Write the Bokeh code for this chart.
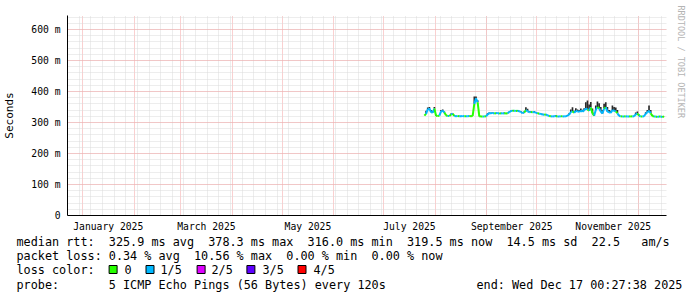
import datetime as dt
from bokeh.plotting import figure
from bokeh.models import Range1d, FixedTicker, ColumnDataSource, Title
from bokeh.embed import file_html
from bokeh.resources import INLINE
from bokeh.core.properties import value

# ---------------- data ----------------
first_sample = dt.datetime(2025, 7, 25, 12)   # one sample per day
median_ms = [
    322, 328, 342, 345, 333, 332, 345, 322, 321, 322,
    336, 338, 332, 323, 321, 321, 326, 328, 321, 320,
    321, 320, 320, 321, 320, 320, 320, 321, 320, 321,
    360, 378, 365, 320, 319, 319, 319, 320, 326, 330,
    330, 331, 329, 330, 331, 328, 330, 329, 330, 329,
    330, 333, 337, 338, 338, 337, 338, 336, 334, 330,
    332, 340, 336, 333, 334, 333, 334, 331, 330, 328,
    327, 326, 325, 326, 323, 321, 320, 319, 320, 321,
    319, 319, 320, 320, 319, 320, 322, 325, 334, 336,
    331, 337, 336, 334, 338, 335, 339, 345, 342, 338,
    348, 330, 322, 340, 350, 345, 335, 329, 345, 349,
    335, 333, 331, 340, 338, 336, 330, 321, 320, 319,
    319, 320, 319, 319, 320, 319, 320, 326, 329, 322,
    319, 319, 320, 328, 333, 338, 330, 321, 319, 319,
    318, 319, 319, 318, 319,
]
loss_count = [
    0, 0, 1, 1, 1, 1, 1, 0, 0, 0,
    1, 1, 1, 0, 0, 1, 0, 1, 0, 1,
    1, 0, 1, 1, 1, 0, 1, 1, 0, 0,
    0, 1, 1, 0, 0, 0, 1, 0, 1, 1,
    1, 1, 1, 0, 1, 1, 0, 1, 1, 0,
    0, 1, 1, 1, 0, 1, 0, 1, 1, 1,
    1, 0, 1, 1, 1, 0, 1, 1, 1, 0,
    1, 1, 1, 0, 1, 1, 0, 1, 1, 1,
    0, 1, 1, 0, 1, 1, 1, 1, 1, 1,
    0, 1, 1, 1, 1, 1, 1, 1, 1, 0,
    1, 0, 0, 1, 1, 0, 1, 1, 1, 0,
    1, 1, 1, 1, 1, 1, 0, 1, 1, 0,
    1, 0, 1, 1, 0, 0, 1, 1, 1, 0,
    1, 0, 1, 1, 1, 1, 1, 0, 0, 1,
    0, 1, 0, 1, 0,
]
smoke_hi_ms = [
    322, 338, 348, 350, 340, 338, 350, 325, 321, 322,
    340, 342, 335, 325, 321, 321, 329, 330, 323, 320,
    321, 322, 320, 321, 320, 320, 320, 322, 320, 322,
    384, 384, 372, 322, 319, 319, 319, 320, 330, 332,
    331, 333, 330, 331, 332, 330, 331, 330, 332, 330,
    331, 335, 339, 340, 339, 339, 340, 338, 336, 332,
    335, 349, 344, 336, 336, 334, 336, 333, 331, 329,
    328, 328, 326, 327, 324, 322, 321, 320, 320, 323,
    320, 319, 320, 321, 319, 321, 324, 330, 342, 349,
    338, 346, 342, 340, 345, 341, 346, 365, 371, 358,
    366, 345, 330, 355, 368, 362, 350, 340, 360, 365,
    350, 340, 338, 355, 350, 348, 340, 325, 320, 320,
    319, 320, 319, 320, 320, 319, 321, 332, 335, 326,
    319, 319, 321, 333, 340, 355, 340, 325, 319, 319,
    319, 319, 319, 319, 320,
]
loss_labels = ["0", "1/5", "2/5", "3/5", "4/5"]
loss_colors = ["#26ff00", "#00b8ff", "#dd00ff", "#5e00ff", "#ff0000"]

y_ticks = [0, 100, 200, 300, 400, 500, 600]
y_tick_labels = ["0", "100 m", "200 m", "300 m", "400 m", "500 m", "600 m"]
x_label_months = [(2025, 1), (2025, 3), (2025, 5), (2025, 7), (2025, 9), (2025, 11)]
x_tick_labels = ["January 2025", "March 2025", "May 2025", "July 2025",
                 "September 2025", "November 2025"]

legend_rows = [
    ["median rtt:", "325.9 ms avg", "378.3 ms max", "316.0 ms min", "319.5 ms now",
     "14.5 ms sd", "22.5", "am/s"],
    ["packet loss:", "0.34 % avg", "10.56 % max", "0.00 % min", "0.00 % now"],
    ["loss color:"],
    ["probe:", "5 ICMP Echo Pings (56 Bytes) every 120s"],
]
legend_cols = [
    [0, 13, 27, 41, 55, 69, 81, 88],
    [0, 13, 25, 38, 50],
    [0],
    [0, 13],
]
end_text = "end: Wed Dec 17 00:27:38 2025"
watermark = "RRDTOOL / TOBI OETIKER"

# ---------------- helpers ----------------
EPOCH = dt.datetime(1970, 1, 1)


def ms(d):
    return (d - EPOCH).total_seconds() * 1000.0


DAY = 86400000.0
start_ms = ms(dt.datetime(2024, 12, 23))
end_ms = ms(dt.datetime(2025, 12, 18))
Y_TOP = 645.0
times = [ms(first_sample) + i * DAY for i in range(len(median_ms))]

MONO = "DejaVu Sans Mono"
W = 697
FL, FT, FW, FH = 67, 15, 600, 200
MAIN_H = 234
LEG_H = 297 - MAIN_H

# ---------------- main graph ----------------
p = figure(width=W, height=MAIN_H, x_axis_type="datetime",
           x_range=Range1d(start_ms, end_ms), y_range=Range1d(0, Y_TOP),
           output_backend="svg", toolbar_location=None,
           min_border_left=FL, min_border_right=W - FL - FW,
           min_border_top=FT, min_border_bottom=MAIN_H - FT - FH)
p.outline_line_color = None
p.background_fill_color = "white"
p.border_fill_color = "white"

# grids
month_starts = []
for y, m in [(2024, 12)] + [(2025, k) for k in range(1, 13)]:
    month_starts.append(ms(dt.datetime(y, m, 1)))
week_lines = []
d = dt.datetime(2024, 12, 23)
while d < dt.datetime(2025, 12, 19):
    week_lines.append(ms(d))
    d += dt.timedelta(days=7)

MAJ = "#f4a0a0"
MIN = "#dadada"
p.xgrid.ticker = FixedTicker(ticks=month_starts, minor_ticks=week_lines)
p.ygrid.ticker = FixedTicker(ticks=y_ticks, minor_ticks=list(range(0, 641, 20)))
for g in (p.xgrid[0], p.ygrid[0]):
    g.grid_line_color = MAJ
    g.grid_line_dash = "1 1"
    g.minor_grid_line_color = MIN
    g.minor_grid_line_dash = "1 1"

# axes
label_ticks = []
for (y, m) in x_label_months:
    a = dt.datetime(y, m, 1)
    b = dt.datetime(y + (m == 12), m % 12 + 1, 1)
    label_ticks.append((ms(a) + ms(b)) / 2.0)
p.xaxis.ticker = FixedTicker(ticks=label_ticks)
p.xaxis.major_label_overrides = {t: s for t, s in zip(label_ticks, x_tick_labels)}
p.yaxis.ticker = FixedTicker(ticks=y_ticks)
p.yaxis.major_label_overrides = {t: s for t, s in zip(y_ticks, y_tick_labels)}

for ax in (p.xaxis[0], p.yaxis[0]):
    ax.axis_line_color = "black"
    ax.axis_line_width = 1
    ax.major_tick_line_color = None
    ax.minor_tick_line_color = None
    ax.major_tick_out = 0
    ax.major_tick_in = 0
    ax.minor_tick_out = 0
    ax.minor_tick_in = 0
    ax.major_label_text_font = MONO
    ax.major_label_text_font_size = "9.7px"
    ax.major_label_text_color = "black"
p.xaxis.major_label_standoff = 5
p.yaxis.major_label_standoff = 7
p.yaxis.axis_label = "Seconds"
p.yaxis.axis_label_text_font = MONO
p.yaxis.axis_label_text_font_size = "11px"
p.yaxis.axis_label_text_font_style = "normal"
p.yaxis.axis_label_text_color = "black"
p.yaxis.axis_label_standoff = 12

# smoke
src = ColumnDataSource(dict(t=times, med=median_ms, hi=smoke_hi_ms))
p.vbar(x="t", width=DAY, bottom="med", top="hi", source=src,
       fill_color="#2a2a2a", line_color=None)

# median line coloured by loss
seg = ColumnDataSource(dict(
    x0=times[:-1], x1=times[1:], y0=median_ms[:-1], y1=median_ms[1:],
    c=[loss_colors[k] for k in loss_count[1:]],
))
p.segment(x0="x0", y0="y0", x1="x1", y1="y1", color="c", line_width=2, source=seg)

# watermark in the right-hand panel
p.add_layout(Title(text=watermark, align="left", offset=-10, standoff=19,
                   text_font=MONO, text_font_size="8.5px", text_font_style="normal",
                   text_color="#b4b4b4"), "right")

# ---------------- legend (separate canvas below the graph) ----------------
lg = figure(width=W, height=LEG_H, x_range=Range1d(0, W), y_range=Range1d(LEG_H, 0),
            output_backend="svg", toolbar_location=None,
            x_axis_location=None, y_axis_location=None,
            min_border=0, min_border_left=0, min_border_right=0,
            min_border_top=0, min_border_bottom=0)
lg.outline_line_color = None
lg.grid.visible = False
lg.background_fill_color = "white"
lg.border_fill_color = "white"

CW = 7.1
X0 = 16
row_y = [241 - MAIN_H, 255 - MAIN_H, 269 - MAIN_H, 284 - MAIN_H]

tx, ty, tt = [], [], []
for r, (texts, cols) in enumerate(zip(legend_rows, legend_cols)):
    for s, c in zip(texts, cols):
        tx.append(X0 + c * CW)
        ty.append(row_y[r])
        tt.append(s)
tx.append(476)
ty.append(row_y[3])
tt.append(end_text)

box_x = [112.6, 149.5, 200.6, 250.4, 301.5]
lab_x = [124, 160, 211, 262, 313]
tx += lab_x
ty += [row_y[2]] * len(lab_x)
tt += loss_labels

lg.text(x=tx, y=ty, text=tt, text_font=value(MONO), text_font_size=value("11.8px"),
        text_baseline="middle", text_align="left", text_color="black")
lg.rect(x=box_x, y=[row_y[2]] * len(box_x), width=8, height=8, fill_color=loss_colors,
        line_color="black", line_width=1)

open("out.html", "w").write(file_html([p, lg], INLINE))
